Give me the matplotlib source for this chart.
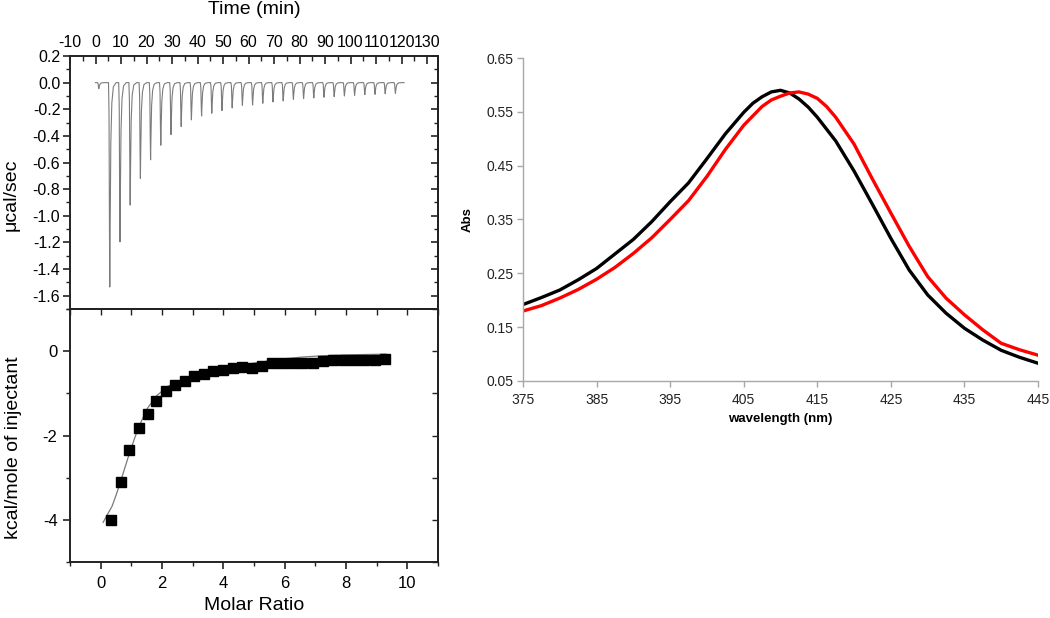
import numpy as np
import matplotlib
matplotlib.use('Agg')
import matplotlib.pyplot as plt
from matplotlib.ticker import MultipleLocator, FormatStrFormatter

plt.rcParams['font.family'] = ['Liberation Sans', 'DejaVu Sans']
plt.rcParams['axes.unicode_minus'] = False

# ---------------- data ----------------
# ITC raw thermogram: injection times (min) and peak heights (ucal/sec)
inj_time = [1.3, 5.6, 9.6, 13.6, 17.6, 21.6, 25.6, 29.6, 33.6, 37.6, 41.6,
            45.6, 49.6, 53.6, 57.6, 61.6, 65.6, 69.6, 73.6, 77.6, 81.6,
            85.6, 89.6, 93.6, 97.6, 101.6, 105.6, 109.6, 113.6, 117.6]
inj_depth = [-0.045, -1.535, -1.196, -0.92, -0.72, -0.58, -0.47, -0.39, -0.33,
             -0.28, -0.25, -0.23, -0.21, -0.19, -0.17, -0.168, -0.155, -0.145,
             -0.138, -0.125, -0.12, -0.115, -0.11, -0.105, -0.10, -0.095,
             -0.09, -0.088, -0.083, -0.08]
run_end = 121.0

# integrated heats
molar_ratio = [0.35, 0.65, 0.94, 1.24, 1.53, 1.82, 2.13, 2.43, 2.74, 3.05,
               3.36, 3.67, 3.98, 4.30, 4.61, 4.94, 5.27, 5.59, 5.92, 6.24,
               6.57, 6.91, 7.24, 7.58, 7.92, 8.25, 8.60, 8.94, 9.28]
heat = [-4.0, -3.11, -2.35, -1.82, -1.49, -1.19, -0.94, -0.81, -0.70, -0.58,
        -0.55, -0.48, -0.44, -0.41, -0.38, -0.40, -0.36, -0.28, -0.29, -0.29,
        -0.27, -0.28, -0.23, -0.21, -0.21, -0.20, -0.21, -0.21, -0.18]
fit_x = [0.08, 0.2, 0.37, 0.5, 0.65, 0.8, 0.94, 1.1, 1.24, 1.4, 1.53, 1.7,
         1.82, 2.0, 2.13, 2.43, 2.74, 3.05, 3.5, 3.98, 4.5, 4.94, 5.5, 6.0,
         6.57, 7.2, 7.9, 8.6, 9.3]
fit_y = [-4.06, -3.9, -3.68, -3.42, -3.09, -2.74, -2.42, -2.08, -1.80, -1.55,
         -1.35, -1.18, -1.06, -0.95, -0.86, -0.74, -0.65, -0.57, -0.49, -0.42,
         -0.35, -0.29, -0.23, -0.18, -0.14, -0.11, -0.09, -0.08, -0.07]

# UV-vis spectra
wl_black = [375, 377.5, 380, 382.5, 385, 387.5, 390, 392.5, 395, 397.5, 400,
            402.5, 405, 406.25, 407.5, 408.75, 410, 411.25, 412.5, 413.75,
            415, 417.5, 420, 422.5, 425, 427.5, 430, 432.5, 435, 437.5, 440,
            442.5, 445]
abs_black = [0.192, 0.205, 0.219, 0.238, 0.259, 0.286, 0.313, 0.346, 0.383,
             0.418, 0.463, 0.509, 0.549, 0.566, 0.578, 0.587, 0.590, 0.585,
             0.574, 0.559, 0.540, 0.496, 0.440, 0.378, 0.315, 0.256, 0.210,
             0.176, 0.148, 0.126, 0.107, 0.094, 0.083]
wl_red = [375, 377.5, 380, 382.5, 385, 387.5, 390, 392.5, 395, 397.5, 400,
          402.5, 405, 407.5, 408.75, 410, 411.25, 412.5, 413.75, 415, 416.25,
          417.5, 420, 422.5, 425, 427.5, 430, 432.5, 435, 437.5, 440, 442.5,
          445]
abs_red = [0.180, 0.190, 0.204, 0.220, 0.239, 0.261, 0.287, 0.316, 0.350,
           0.385, 0.430, 0.480, 0.525, 0.560, 0.572, 0.579, 0.585, 0.587,
           0.583, 0.575, 0.560, 0.540, 0.490, 0.425, 0.362, 0.300, 0.244,
           0.204, 0.173, 0.145, 0.120, 0.108, 0.098]

# ---------------- figure ----------------
W, H = 1050, 618
fig = plt.figure(figsize=(W / 100, H / 100), dpi=100)

def box(x0, y0, x1, y1):
    return [x0 / W, 1 - y1 / H, (x1 - x0) / W, (y1 - y0) / H]

spine_col = '#222222'

# ---- top-left: raw thermogram ----
ax1 = fig.add_axes(box(70, 56, 438, 309))
shape_dt = np.array([-0.5, -0.3, -0.12, 0.0, 0.15, 0.4, 0.8, 1.4, 2.5])
shape_fr = np.array([0.0, 0.15, 0.75, 1.0, 0.7, 0.3, 0.1, 0.02, 0.0])
tl, yl = [0.0], [0.0]
for t, d in zip(inj_time, inj_depth):
    tl.extend(list(t + shape_dt))
    yl.extend(list(d * shape_fr))
tl.append(run_end)
yl.append(0.0)
ax1.plot(tl, yl, color='#7c7c7c', lw=0.8)
ax1.set_xlim(-10, 134.3)
ax1.set_ylim(-1.7, 0.2)
ax1.xaxis.tick_top()
ax1.xaxis.set_major_locator(MultipleLocator(10))
ax1.xaxis.set_minor_locator(MultipleLocator(5))
ax1.yaxis.set_major_locator(MultipleLocator(0.2))
ax1.yaxis.set_minor_locator(MultipleLocator(0.1))
ax1.yaxis.set_major_formatter(FormatStrFormatter('%.1f'))
ax1.tick_params(axis='x', which='both', direction='in', top=True, bottom=False,
                labelsize=11.5, pad=4, color=spine_col)
ax1.tick_params(axis='x', which='major', length=6, width=1.2)
ax1.tick_params(axis='x', which='minor', length=3.5, width=1.0)
ax1.tick_params(axis='y', which='both', direction='out', left=True, right=False,
                labelsize=11.5, pad=2, color=spine_col)
ax1.tick_params(axis='y', which='major', length=5, width=1.2)
ax1.tick_params(axis='y', which='minor', length=3, width=1.0)
sec1 = ax1.secondary_yaxis('right')
sec1.yaxis.set_major_locator(MultipleLocator(0.2))
sec1.yaxis.set_minor_locator(MultipleLocator(0.1))
sec1.tick_params(which='both', direction='in', labelright=False, color=spine_col)
sec1.tick_params(which='major', length=5, width=1.2)
sec1.tick_params(which='minor', length=3, width=1.0)
sec1.spines['right'].set_color(spine_col)
sec1.spines['right'].set_linewidth(1.4)
ax1.set_title('Time (min)', fontsize=14, y=1.0, pad=30)
ax1.set_ylabel('\u03bccal/sec', fontsize=14)
ax1.yaxis.set_label_coords(-0.136, 0.45)
for s in ax1.spines.values():
    s.set_color(spine_col)
    s.set_linewidth(1.4)

# ---- bottom-left: integrated heats ----
ax2 = fig.add_axes(box(70, 309, 438, 562))
ax2.plot(fit_x, fit_y, color='#7a7a7a', lw=0.9, zorder=2)
ax2.plot(molar_ratio, heat, linestyle='none', marker='s', markersize=7,
         color='black', zorder=3)
ax2.set_xlim(-1, 11)
ax2.set_ylim(-5, 1)
ax2.xaxis.set_major_locator(MultipleLocator(2))
ax2.xaxis.set_minor_locator(MultipleLocator(1))
ax2.yaxis.set_major_locator(MultipleLocator(2))
ax2.yaxis.set_minor_locator(MultipleLocator(1))
ax2.tick_params(axis='x', which='both', direction='out', bottom=True, top=False,
                labelsize=12, pad=5, color=spine_col)
ax2.tick_params(axis='x', which='major', length=5, width=1.2)
ax2.tick_params(axis='x', which='minor', length=3, width=1.0)
ax2.tick_params(axis='y', which='both', direction='out', left=True, right=False,
                labelsize=12, pad=4, color=spine_col)
ax2.tick_params(axis='y', which='major', length=5, width=1.2)
ax2.tick_params(axis='y', which='minor', length=3, width=1.0)
sec2 = ax2.secondary_yaxis('right')
sec2.yaxis.set_major_locator(MultipleLocator(1))
sec2.tick_params(which='both', direction='in', labelright=False, length=4,
                 width=1.0, color=spine_col)
sec2.spines['right'].set_color(spine_col)
sec2.spines['right'].set_linewidth(1.4)
sec2x = ax2.secondary_xaxis('top')
sec2x.xaxis.set_major_locator(MultipleLocator(1))
sec2x.tick_params(which='both', direction='in', labeltop=False, length=4,
                  width=1.0, color=spine_col)
sec2x.spines['top'].set_color(spine_col)
sec2x.spines['top'].set_linewidth(1.4)
ax2.set_xlabel('Molar Ratio', fontsize=14)
ax2.xaxis.set_label_coords(0.5, -0.14)
ax2.set_ylabel('kcal/mole of injectant', fontsize=14)
ax2.yaxis.set_label_coords(-0.13, 0.45)
for s in ax2.spines.values():
    s.set_color(spine_col)
    s.set_linewidth(1.4)

# ---- right: UV-vis spectra ----
ax3 = fig.add_axes(box(523, 58, 1038, 381))
ax3.plot(wl_black, abs_black, color='black', lw=2.4)
ax3.plot(wl_red, abs_red, color='#ff0000', lw=2.4)
ax3.set_xlim(375, 445)
ax3.set_ylim(0.05, 0.65)
ax3.set_xticks(np.arange(375, 446, 10))
ax3.set_yticks(np.arange(0.05, 0.66, 0.1))
ax3.yaxis.set_major_formatter(FormatStrFormatter('%.2f'))
for side in ('top', 'right'):
    ax3.spines[side].set_visible(False)
for side in ('left', 'bottom'):
    ax3.spines[side].set_color('#a8a8a8')
    ax3.spines[side].set_linewidth(1.0)
ax3.tick_params(axis='both', direction='out', length=4, width=1.0,
                color='#a8a8a8', labelsize=10, labelcolor='#222222')
ax3.tick_params(axis='x', pad=5)
ax3.tick_params(axis='y', pad=3)
ax3.set_xlabel('wavelength (nm)', fontsize=9.5, fontweight='bold', labelpad=4)
ax3.set_ylabel('Abs', fontsize=9.5, fontweight='bold')
ax3.yaxis.set_label_coords(-0.095, 0.5)

fig.savefig('out.png', dpi=100)
